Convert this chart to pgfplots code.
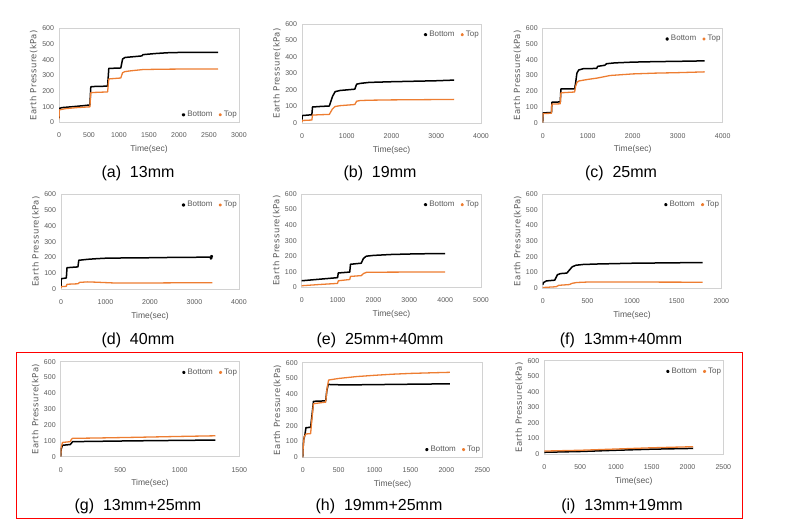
\documentclass[border=0pt]{standalone}
\usepackage{fontspec}
\setmainfont{Liberation Sans}
\newfontfamily\ylabfont[LetterSpace=5]{DejaVu Sans}
\usepackage{pgfplots}
\pgfplotsset{compat=1.18}
\definecolor{xlorange}{RGB}{237,125,49}
\definecolor{txtgray}{RGB}{89,89,89}
\definecolor{framegray}{RGB}{210,210,210}
\pgfplotsset{
  panel/.style={
    scale only axis, anchor=south west,
    xmin=0, ymin=0, ymax=600,
    ytick={0,100,200,300,400,500,600},
    axis line style={draw=framegray, line width=0.8pt},
    major tick length=0pt, tick style={draw=none},
    tick label style={font=\fontsize{7}{8}\selectfont, text=txtgray,
      /pgf/number format/assume math mode=true, /pgf/number format/1000 sep={}},
    scaled x ticks=false,
    xticklabel style={anchor=center, yshift=-13pt},
    yticklabel style={xshift=-1.5pt},
    xlabel={Time(sec)}, ylabel={Earth Pressure(kPa)},
    xlabel style={at={(axis description cs:0.5,0)}, anchor=center, yshift=-27pt,
      font=\fontsize{8.5}{10}\selectfont, text=txtgray},
    ylabel style={at={(axis description cs:-0.14,0.5)}, anchor=center,
      font=\ylabfont\fontsize{8.5}{10}\selectfont, text=txtgray},
    legend style={draw=none, fill=none, font=\fontsize{8}{9}\selectfont, text=txtgray,
      legend columns=2, /tikz/every even column/.append style={column sep=4pt},
      inner sep=0pt, cells={anchor=west}, at={(1,1)}, anchor=north east, yshift=-5pt},
    legend image code/.code={\fill (0pt,0pt) circle (1pt);},
  },
  sB/.style={black, line width=1.5pt, line join=round},
  sT/.style={xlorange, line width=1.3pt, line join=round},
  legSE/.style={legend style={at={(1,0)}, anchor=south east, yshift=7pt}},
}
\begin{document}
\begin{tikzpicture}[x=1pt,y=1pt]
\path (0,0) rectangle (789,526);
% (a)
\begin{axis}[panel, at={(59pt,403.5pt)}, width=180pt, height=94pt, xmax=3000, xtick={0,500,...,3000}, legSE]
\addplot[sB] coordinates {(0,30) (5,90) (50,95) (200,100) (400,107) (515,112) (530,228) (600,230) (810,232) (830,345) (1030,348) (1060,405) (1100,415) (1300,422) (1380,425) (1400,433) (1600,440) (1800,445) (2000,447) (2300,448) (2650,448)};
\addlegendentry{Bottom}
\addplot[sT] coordinates {(0,20) (5,80) (100,88) (300,95) (515,100) (530,190) (600,192) (810,195) (830,278) (1030,284) (1060,318) (1100,325) (1200,330) (1400,338) (1700,340) (2000,341) (2650,342)};
\addlegendentry{Top}
\end{axis}
% (b)
\begin{axis}[panel, at={(302pt,403pt)}, width=179pt, height=99pt, xmax=4000, xtick={0,1000,...,4000}]
\addplot[sB] coordinates {(0,20) (5,45) (220,50) (235,97) (400,100) (610,103) (680,160) (740,190) (850,197) (1180,205) (1220,235) (1300,240) (1500,246) (2000,250) (2500,253) (3000,256) (3400,260)};
\addlegendentry{Bottom}
\addplot[sT] coordinates {(0,5) (5,15) (220,18) (235,48) (400,50) (610,52) (680,85) (740,100) (850,105) (1180,112) (1220,132) (1300,136) (1500,138) (2000,140) (3000,142) (3400,143)};
\addlegendentry{Top}
\end{axis}
% (c)
\begin{axis}[panel, at={(542.7pt,403.3pt)}, width=180pt, height=94.4pt, xmax=4000, xtick={0,1000,...,4000}]
\addplot[sB] coordinates {(0,0) (5,62) (195,65) (205,130) (390,132) (405,215) (710,215) (730,250) (760,315) (800,335) (900,343) (1200,345) (1220,358) (1380,365) (1420,375) (1600,380) (2000,385) (2500,388) (3000,390) (3600,393)};
\addlegendentry{Bottom}
\addplot[sT] coordinates {(0,0) (5,58) (195,60) (205,118) (390,120) (405,190) (710,195) (730,230) (760,255) (800,265) (1000,275) (1200,283) (1500,300) (2000,310) (2500,315) (3000,318) (3600,323)};
\addlegendentry{Top}
\end{axis}
% (d)
\begin{axis}[panel, at={(61pt,237pt)}, width=178pt, height=94.7pt, xmax=4000, xtick={0,1000,...,4000}]
\addplot[sB] coordinates {(0,10) (5,65) (120,70) (135,135) (380,140) (400,182) (600,188) (800,192) (1000,195) (1500,197) (2000,198) (2500,200) (3000,201) (3350,202) (3365,190) (3375,212) (3385,192) (3395,210) (3400,203)};
\addlegendentry{Bottom}
\addplot[sT] coordinates {(0,5) (5,15) (120,17) (135,30) (380,33) (420,42) (600,45) (800,43) (1200,38) (2000,38) (3000,40) (3400,40)};
\addlegendentry{Top}
\end{axis}
% (e)
\begin{axis}[panel, at={(301.7pt,238.7pt)}, width=179.3pt, height=93.3pt, xmax=5000, xtick={0,1000,...,5000}]
\addplot[sB] coordinates {(0,42) (500,52) (1000,62) (1020,92) (1340,98) (1360,148) (1660,155) (1720,185) (1800,200) (2000,205) (2500,211) (3000,214) (3500,216) (4000,217)};
\addlegendentry{Bottom}
\addplot[sT] coordinates {(0,10) (500,18) (1000,25) (1020,42) (1340,50) (1360,70) (1660,75) (1720,88) (1800,96) (2000,97) (3000,98) (4000,98)};
\addlegendentry{Top}
\end{axis}
% (f)
\begin{axis}[panel, at={(542.7pt,238pt)}, width=178.6pt, height=94pt, xmax=2000, xtick={0,500,...,2000}]
\addplot[sB] coordinates {(0,20) (10,35) (40,45) (135,50) (165,85) (200,92) (270,95) (300,115) (330,135) (370,145) (450,150) (600,153) (1000,158) (1500,161) (1790,162)};
\addlegendentry{Bottom}
\addplot[sT] coordinates {(0,3) (150,8) (180,17) (300,22) (330,30) (380,35) (500,38) (1000,38) (1790,37)};
\addlegendentry{Top}
\end{axis}
% (g)
\begin{axis}[panel, at={(60.7pt,69.3pt)}, width=178.6pt, height=95pt, xmax=1500, xtick={0,500,...,1500}]
\addplot[sB] coordinates {(0,0) (3,45) (15,72) (80,77) (90,85) (100,95) (300,97) (600,100) (1000,103) (1300,105)};
\addlegendentry{Bottom}
\addplot[sT] coordinates {(0,0) (3,55) (15,90) (80,95) (90,110) (100,116) (300,118) (600,122) (1000,128) (1300,132)};
\addlegendentry{Top}
\end{axis}
% (h)
\begin{axis}[panel, at={(302.7pt,68.7pt)}, width=179.6pt, height=94.6pt, xmax=2500, xtick={0,500,...,2500}, legSE]
\addplot[sB] coordinates {(0,0) (5,60) (15,115) (30,140) (45,188) (110,190) (130,270) (150,355) (320,358) (335,420) (355,462) (500,460) (800,460) (1200,462) (1600,464) (2050,466)};
\addlegendentry{Bottom}
\addplot[sT] coordinates {(0,0) (5,50) (20,130) (45,148) (110,150) (130,250) (150,340) (320,350) (340,440) (360,490) (500,500) (750,512) (1000,520) (1250,527) (1500,532) (1800,536) (2050,539)};
\addlegendentry{Top}
\end{axis}
% (i)
\begin{axis}[panel, at={(544.3pt,72pt)}, width=179pt, height=93.3pt, xmax=2500, xtick={0,500,...,2500}]
\addplot[sB] coordinates {(0,11) (500,16) (1000,24) (1500,31) (2080,36)};
\addlegendentry{Bottom}
\addplot[sT] coordinates {(0,19) (500,24) (1000,32) (1500,40) (2080,47)};
\addlegendentry{Top}
\end{axis}
% captions
\begin{scope}[every node/.style={font=\fontsize{16}{18}\selectfont, inner sep=0pt}]
\node at (138,353) {(a)\ \ 13mm};
\node at (380,353) {(b)\ \ 19mm};
\node at (621,353) {(c)\ \ 25mm};
\node at (138,186) {(d)\ \ 40mm};
\node at (380,186) {(e)\ \ 25mm+40mm};
\node at (621,186) {(f)\ \ 13mm+40mm};
\node at (138,20) {(g)\ \ 13mm+25mm};
\node at (379,20) {(h)\ \ 19mm+25mm};
\node at (622,20) {(i)\ \ 13mm+19mm};
\end{scope}
\draw[red, line width=1.3pt] (16.7,173.5) rectangle (742.3,7.5);
\pgfresetboundingbox
\path (0,0) rectangle (789,526);
\end{tikzpicture}
\end{document}
